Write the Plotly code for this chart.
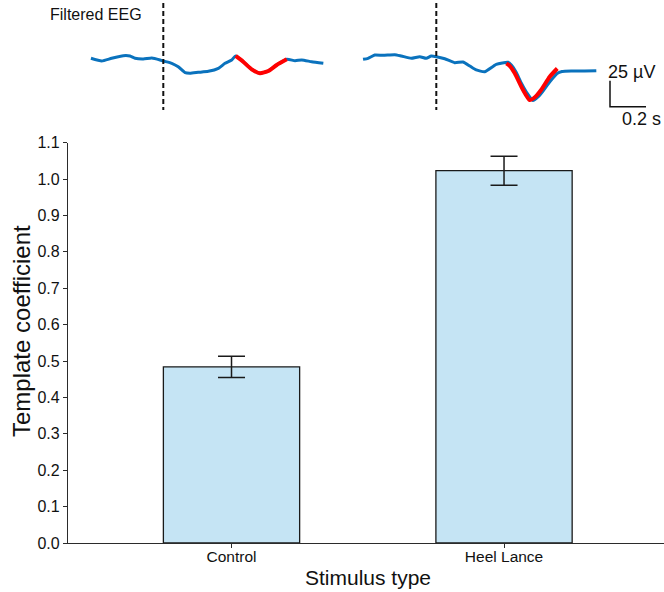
import plotly.graph_objects as go

# ---- bar data ----
stimulus = ["Control", "Heel Lance"]
coef_mean = [0.484, 1.023]
coef_sem = [0.029, 0.040]
y_ticks = [0.0, 0.1, 0.2, 0.3, 0.4, 0.5, 0.6, 0.7, 0.8, 0.9, 1.0, 1.1]

# ---- filtered EEG examples (time in s relative to stimulus, amplitude in µV) ----
ctrl_eeg_t = [-0.402, -0.342, -0.287, -0.222, -0.185, -0.157, -0.111, -0.064, -0.018, 0.0,
              0.047, 0.083, 0.121, 0.148, 0.194, 0.25, 0.306, 0.343, 0.38, 0.402,
              0.444, 0.491, 0.537, 0.583, 0.63, 0.686, 0.732, 0.769, 0.824, 0.889]
ctrl_eeg_v = [-0.3, -2.9, -0.3, 2.2, 1.9, -0.3, -1.0, 0.0, -1.9, -2.9,
              -5.1, -8.4, -14.1, -14.7, -13.8, -12.8, -9.9, -5.1, -1.9, 2.0,
              -3.6, -10.9, -14.7, -12.5, -6.7, -1.3, -2.6, -1.9, -3.6, -5.1]
ctrl_fit_t = [0.402, 0.444, 0.491, 0.537, 0.583, 0.63, 0.686]
ctrl_fit_v = [2.0, -3.6, -10.9, -14.7, -12.5, -6.7, -1.3]

heel_eeg_t = [-0.407, -0.379, -0.342, -0.296, -0.231, -0.194, -0.139, -0.092, -0.056, -0.028,
              0.0, 0.047, 0.102, 0.148, 0.186, 0.222, 0.269, 0.333, 0.398, 0.417,
              0.443, 0.472, 0.504, 0.537, 0.565, 0.593, 0.621, 0.648, 0.671, 0.698,
              0.75, 0.824, 0.889]
heel_eeg_v = [-1.3, -0.3, 2.9, 2.6, 3.2, 1.9, -0.3, 1.3, -0.3, 1.9,
              1.3, -0.7, -4.5, -3.8, -7.7, -11.5, -13.2, -6.1, -4.1, -6.7,
              -13.5, -24.0, -33.7, -40.9, -37.5, -31.7, -25.0, -19.2, -14.9, -13.0,
              -12.5, -12.5, -12.2]
heel_fit_t = [0.389, 0.409, 0.436, 0.482, 0.518, 0.549, 0.582, 0.63, 0.672]
heel_fit_v = [-5.1, -7.7, -14.7, -30.8, -40.4, -37.5, -30.8, -18.0, -10.1]

stim_marker_v = [52.9, -50.0]   # extent of the stimulus-onset dashed line
scale_t = 0.2                   # s
scale_v = 25                    # µV
scale_origin = (0.965, -46.8)   # corner of the scale bar on the heel-lance axis

EEG_BLUE = "#0a72bd"
FIT_RED = "#ff0000"
BAR_FILL = "#c5e4f4"
AXIS_COL = "#2b2b2b"
FONT = "Liberation Sans, Arial, Helvetica, sans-serif"

fig = go.Figure()

fig.add_trace(go.Bar(
    x=stimulus, y=coef_mean, width=0.5,
    marker=dict(color=BAR_FILL, line=dict(color="#1a1a1a", width=1.3)),
    error_y=dict(type="data", array=coef_sem, visible=True,
                 color="#1a1a1a", thickness=1.5, width=13.5),
    xaxis="x", yaxis="y", showlegend=False,
))

line_kw = dict(shape="spline", smoothing=0.5)
fig.add_trace(go.Scatter(x=ctrl_eeg_t, y=ctrl_eeg_v, mode="lines",
                         line=dict(color=EEG_BLUE, width=3, **line_kw),
                         xaxis="x2", yaxis="y2", showlegend=False))
fig.add_trace(go.Scatter(x=ctrl_fit_t, y=ctrl_fit_v, mode="lines",
                         line=dict(color=FIT_RED, width=4, **line_kw),
                         xaxis="x2", yaxis="y2", showlegend=False))
fig.add_trace(go.Scatter(x=[0, 0], y=stim_marker_v, mode="lines",
                         line=dict(color="#111111", width=2, dash="5px,3px"),
                         xaxis="x2", yaxis="y2", showlegend=False))

fig.add_trace(go.Scatter(x=heel_eeg_t, y=heel_eeg_v, mode="lines",
                         line=dict(color=EEG_BLUE, width=3, **line_kw),
                         xaxis="x3", yaxis="y2", showlegend=False))
fig.add_trace(go.Scatter(x=heel_fit_t, y=heel_fit_v, mode="lines",
                         line=dict(color=FIT_RED, width=4, **line_kw),
                         xaxis="x3", yaxis="y2", showlegend=False))
fig.add_trace(go.Scatter(x=[0, 0], y=stim_marker_v, mode="lines",
                         line=dict(color="#111111", width=2, dash="5px,3px"),
                         xaxis="x3", yaxis="y2", showlegend=False))

# scale bar: vertical (µV) then horizontal (s)
sx, sy = scale_origin
fig.add_trace(go.Scatter(x=[sx, sx, sx + scale_t], y=[sy + scale_v, sy, sy], mode="lines",
                         line=dict(color="#111111", width=1.5),
                         xaxis="x3", yaxis="y2", showlegend=False))

# pixel geometry of the plotting area
W, H = 664, 592
ML, MB = 68, 49
PW, PH = W - ML, H - MB
main_top = 142.7
y_dom_top = (PH - main_top) / PH
px_per_s = 180.0
px_per_uv = 1.04
ctrl_zero_px, heel_zero_px, base_px = 163.3, 436.3, 58.0


def t_range(zero_px):
    return [(ML - zero_px) / px_per_s, (W - zero_px) / px_per_s]


eeg_top_px = 0.0
eeg_bot_px = 115.0
invisible = dict(visible=False, showgrid=False, zeroline=False, fixedrange=True)

fig.update_layout(
    width=W, height=H,
    margin=dict(l=ML, r=0, t=0, b=MB, pad=0, autoexpand=False),
    paper_bgcolor="white", plot_bgcolor="white",
    font=dict(family=FONT, color="#111111"),
    bargap=0.5,
    xaxis=dict(
        domain=[0, 1], type="category", range=[-0.6, 1.587],
        showline=True, linecolor=AXIS_COL, linewidth=1.3,
        ticks="outside", ticklen=4, tickcolor=AXIS_COL, tickwidth=1.2,
        ticklabelstandoff=-5,
        tickfont=dict(size=15.5, family=FONT, color="#111111"),
        showgrid=False, zeroline=False, automargin=False,
    ),
    yaxis=dict(
        domain=[0, y_dom_top], range=[0, 1.1],
        tickvals=y_ticks, tickformat=".1f",
        showline=True, linecolor=AXIS_COL, linewidth=1.3,
        ticks="outside", ticklen=4, tickcolor=AXIS_COL, tickwidth=1.2,
        tickfont=dict(size=16, family=FONT, color="#111111"),
        showgrid=False, zeroline=False, automargin=False,
    ),
    xaxis2=dict(domain=[0, 1], range=t_range(ctrl_zero_px), anchor="y2", **invisible),
    xaxis3=dict(domain=[0, 1], range=t_range(heel_zero_px), anchor="y2",
                overlaying="x2", **invisible),
    yaxis2=dict(domain=[(PH - eeg_bot_px) / PH, (PH - eeg_top_px) / PH],
                range=[(base_px - eeg_bot_px) / px_per_uv, (base_px - eeg_top_px) / px_per_uv],
                anchor="x2", **invisible),
)


def px_to_paper(x_px, y_px):
    return (x_px - ML) / PW, (PH - y_px) / PH


# (text, x px, y px, x anchor, font size, angle)
annots = [
    ("Filtered EEG", 48, 14, "left", 16, 0),
    ("25 µV", 606, 72, "left", 18, 0),
    ("0.2 s", 663, 119, "right", 18, 0),
    ("Stimulus type", 368, 577, "center", 21, 0),
    ("Template coefficient", 21, 331, "center", 24, -90),
]
for text, xp, yp, anchor, size, angle in annots:
    ax, ay = px_to_paper(xp, yp)
    fig.add_annotation(text=text, x=ax, y=ay, xref="paper", yref="paper",
                       xanchor=anchor, yanchor="middle", showarrow=False,
                       textangle=angle,
                       font=dict(size=size, family=FONT, color="#111111"))

fig.write_html("out.html")
